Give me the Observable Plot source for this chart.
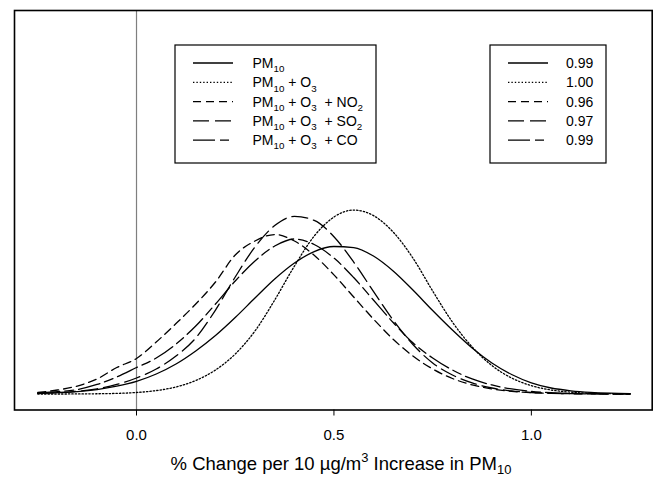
<!DOCTYPE html>
<html>
<head>
<meta charset="utf-8">
<script src="https://cdn.jsdelivr.net/npm/d3@7"></script>
<script src="https://cdn.jsdelivr.net/npm/@observablehq/plot@0.6"></script>
<style>
  body { margin: 0; background: #fff; }
  #chart svg text { white-space: pre; }
</style>
</head>
<body>
<div id="chart"></div>
<script>
// Evaluation grid (x, % change)
const xs = [-0.25,-0.20,-0.15,-0.10,-0.05,0.00,0.05,0.10,0.15,0.20,0.25,0.30,0.35,0.40,0.45,0.50,0.55,0.60,0.65,0.70,0.75,0.80,0.85,0.90,0.95,1.00,1.05,1.10,1.15,1.20,1.25];

// Posterior densities
const densPM10 = [0.009,0.018,0.031,0.056,0.098,0.158,0.25,0.375,0.538,0.731,0.956,1.20,1.438,1.638,1.781,1.844,1.831,1.725,1.538,1.30,1.044,0.80,0.575,0.388,0.244,0.14,0.075,0.04,0.02,0.01,0.005];
const densO3   = [0,0,0.001,0.003,0.008,0.019,0.043,0.088,0.169,0.30,0.50,0.788,1.175,1.60,1.975,2.213,2.30,2.231,2.025,1.70,1.288,0.90,0.588,0.356,0.20,0.104,0.05,0.023,0.009,0.004,0.001];
const densNO2  = [0.019,0.05,0.10,0.188,0.331,0.444,0.65,0.881,1.125,1.40,1.738,1.913,1.994,1.913,1.734,1.49,1.213,0.938,0.684,0.475,0.313,0.194,0.114,0.064,0.034,0.016,0.008,0.004,0.001,0.001,0];
const densSO2  = [0.008,0.016,0.034,0.065,0.119,0.20,0.313,0.475,0.70,1.05,1.463,1.838,2.106,2.221,2.171,1.966,1.65,1.283,0.925,0.619,0.388,0.238,0.138,0.075,0.038,0.019,0.009,0.004,0.001,0,0];
const densCO   = [0.015,0.03,0.056,0.119,0.213,0.331,0.45,0.625,0.85,1.125,1.413,1.663,1.85,1.938,1.869,1.70,1.456,1.175,0.894,0.64,0.45,0.30,0.188,0.113,0.063,0.033,0.016,0.008,0.004,0.001,0];

const models = ["PM_{10}", "PM_{10} + O_{3}", "PM_{10} + O_{3}  + NO_{2}", "PM_{10} + O_{3}  + SO_{2}", "PM_{10} + O_{3}  + CO"];
const probs = ["0.99", "1.00", "0.96", "0.97", "0.99"];
const xTicks = [0, 0.5, 1.0];
const xTitle = "% Change per 10 µg/m^{3} Increase in PM_{10}";

const seriesList = [densPM10, densO3, densNO2, densSO2, densCO];
const dashes = [null, "1.4,2", "8,5", "16,6", "22,5,9,5"];
const lw = 1.3;

const rows = models.flatMap((m, i) => xs.map((x, j) => ({model: m, x, y: seriesList[i][j]})));

const lines = models.map((m, i) => Plot.line(rows.filter(d => d.model === m), {
  x: "x", y: "y", stroke: "black", strokeWidth: lw,
  strokeDasharray: dashes[i] ?? undefined, curve: "monotone-x"
}));

const W = 655, H = 479;
const fontFamily = "'Liberation Sans', Arial, Helvetica, sans-serif";

const svgNode = Plot.plot({
  width: W, height: H,
  marginLeft: 14, marginRight: 3.3, marginTop: 10, marginBottom: 69.5,
  style: {fontFamily, fontSize: "15px", color: "black", background: "white"},
  x: {domain: [-0.309, 1.306], ticks: xTicks, tickFormat: d3.format(".1f"), label: null, tickSize: 6, tickPadding: 13},
  y: {domain: [-0.2, 4.795], axis: null},
  marks: [
    Plot.ruleX([0], {stroke: "#7f7f7f", strokeWidth: 1.2}),
    ...lines,
    Plot.frame({stroke: "black", strokeWidth: 1.6})
  ]
});
document.getElementById("chart").appendChild(svgNode);

const svg = d3.select(svgNode);

function rich(sel, str, fs, subShift = 0.3) {
  const parts = str.split(/(_\{[^}]*\}|\^\{[^}]*\})/).filter(s => s.length);
  let cur = 0;
  for (const p of parts) {
    let target = 0, size = fs, t = p;
    if (p[0] === "_") { target = fs * subShift; size = fs * 0.7; t = p.slice(2, -1); }
    else if (p[0] === "^") { target = -fs * 0.42; size = fs * 0.7; t = p.slice(2, -1); }
    sel.append("tspan").attr("dy", target - cur).attr("font-size", size).text(t);
    cur = target;
  }
}

// Legends
const legFs = 14;
function legend(x0, w, lineX1, lineX2, textX, labels) {
  const g = svg.append("g");
  g.append("rect").attr("x", x0).attr("y", 45).attr("width", w).attr("height", 118)
    .attr("fill", "white").attr("stroke", "black").attr("stroke-width", 1.2);
  labels.forEach((lab, i) => {
    const y = 63 + i * 19.3;
    const ln = g.append("line").attr("x1", lineX1).attr("x2", lineX2).attr("y1", y).attr("y2", y)
      .attr("stroke", "black").attr("stroke-width", lw);
    if (dashes[i]) ln.attr("stroke-dasharray", dashes[i]);
    const t = g.append("text").attr("x", textX).attr("y", y + 5)
      .attr("text-anchor", "start")
      .attr("font-family", fontFamily).attr("font-size", legFs).attr("fill", "black");
    rich(t, lab, legFs);
  });
}
legend(175, 201, 193, 233, 252.5, models);
legend(490, 116, 508, 548, 566, probs);

// Axis title
const titleFs = 18.5;
const tt = svg.append("text").attr("x", 341).attr("y", 469.5).attr("text-anchor", "middle")
  .attr("font-family", fontFamily).attr("font-size", titleFs).attr("fill", "black");
rich(tt, xTitle, titleFs, 0.22);
</script>
</body>
</html>
